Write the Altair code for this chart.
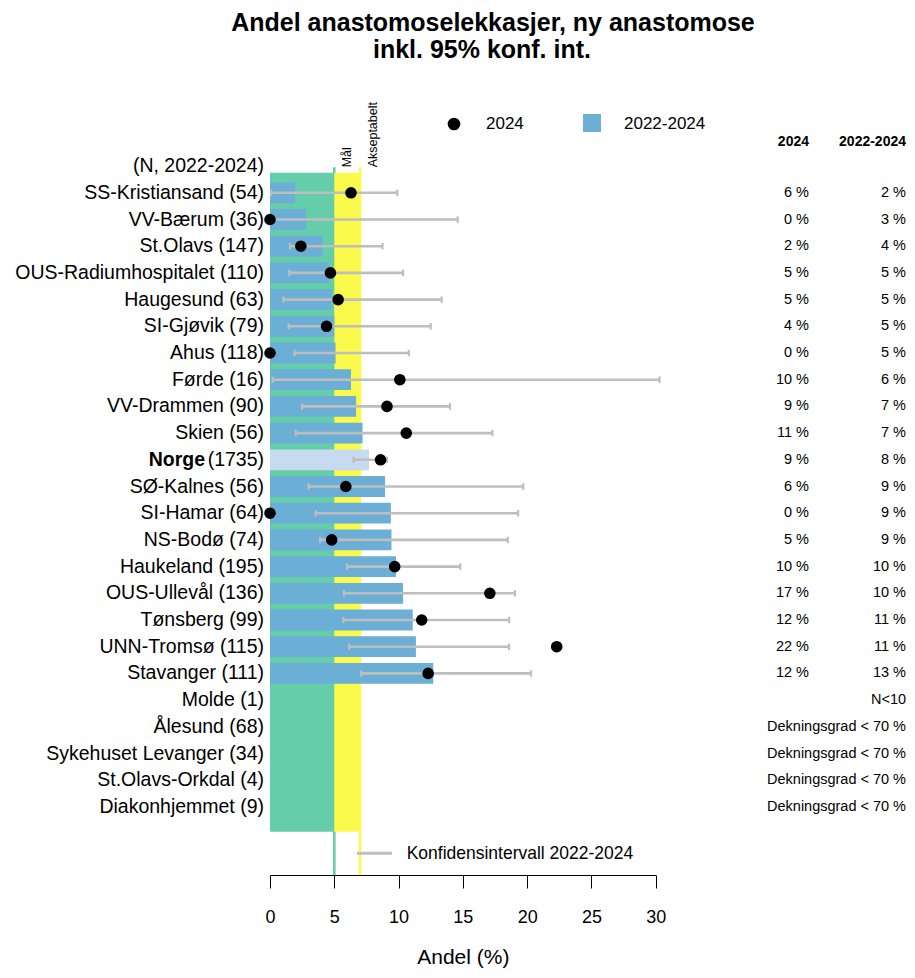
import altair as alt
import pandas as pd
import numpy as np

# ---------------- data ----------------
units = ["SS-Kristiansand", "VV-Bærum", "St.Olavs", "OUS-Radiumhospitalet", "Haugesund",
         "SI-Gjøvik", "Ahus", "Førde", "VV-Drammen", "Skien", "Norge", "SØ-Kalnes",
         "SI-Hamar", "NS-Bodø", "Haukeland", "OUS-Ullevål", "Tønsberg", "UNN-Tromsø",
         "Stavanger", "Molde", "Ålesund", "Sykehuset Levanger", "St.Olavs-Orkdal",
         "Diakonhjemmet"]
n_2022_2024 = [54, 36, 147, 110, 63, 79, 118, 16, 90, 56, 1735, 56, 64, 74, 195, 136, 99,
               115, 111, 1, 68, 34, 4, 9]
NA = np.nan
andel_2024 = [6.3, 0.0, 2.4, 4.7, 5.3, 4.4, 0.0, 10.1, 9.1, 10.6, 8.6, 5.9, 0.0, 4.8, 9.7,
              17.1, 11.8, 22.3, 12.3, NA, NA, NA, NA, NA]
andel_2022_2024 = [1.95, 2.8, 4.1, 4.6, 4.8, 5.0, 5.1, 6.3, 6.7, 7.2, 7.7, 8.95, 9.4, 9.45,
                   9.8, 10.35, 11.1, 11.35, 12.7, NA, NA, NA, NA, NA]
ci_lo = [0.1, 0.0, 1.55, 1.5, 1.05, 1.45, 1.9, 0.2, 2.5, 2.0, 6.5, 3.0, 3.55, 3.9, 6.0,
         5.75, 5.7, 6.15, 7.1, NA, NA, NA, NA, NA]
ci_hi = [9.9, 14.6, 8.75, 10.35, 13.35, 12.5, 10.8, 30.3, 14.0, 17.3, 9.1, 19.7, 19.3,
         18.5, 14.8, 19.05, 18.6, 18.6, 20.3, NA, NA, NA, NA, NA]
notes = [""] * 19 + ["N<10"] + ["Dekningsgrad < 70 %"] * 4
goal = 5          # Mål
acceptable = 7    # Akseptabelt
x_ticks = [0, 5, 10, 15, 20, 25, 30]

# ---------------- tables ----------------
pos = np.arange(1, len(units) + 1)


def pct(v):
    return "" if np.isnan(v) else f"{int(np.floor(v + 0.5))} %"


df = pd.DataFrame({
    "enhet": units,
    "n": n_2022_2024,
    "pos": pos,
    "a24": andel_2024,
    "a3": andel_2022_2024,
    "ci_lo": ci_lo,
    "ci_hi": ci_hi,
})
df["label"] = [("" if u == "Norge" else f"{u} ({n})") for u, n in zip(units, n_2022_2024)]
df["txt24"] = [pct(v) for v in andel_2024]
df["txt3"] = [pct(v) if not np.isnan(v) else nt for v, nt in zip(andel_2022_2024, notes)]
df["ylo"] = df["pos"] - 0.39
df["yhi"] = df["pos"] + 0.39
df["clo"] = df["pos"] - 0.12
df["chi"] = df["pos"] + 0.12

bands = pd.DataFrame({"x0": [0, goal], "x1": [goal, acceptable],
                      "col": ["#66CDAA", "#FAFA4C"], "y0": [0.25, 0.25], "y1": [24.93, 24.93]})
lines = pd.DataFrame({"x": [goal, acceptable], "col": ["#66CDAA", "#FAFA4C"],
                      "y0": [0.04, 0.04], "y1": [26.55, 26.55]})
one = pd.DataFrame({"k": [0]})

FONT = "Liberation Sans"
W, H = 385.7, 789
xs = alt.Scale(domain=[0, 30], nice=False, zero=False)
ys = alt.Scale(domain=[-3, 26.55], reverse=True, nice=False, zero=False)
xaxis = alt.Axis(values=x_ticks, grid=False, title="Andel (%)", domainColor="black",
                 tickColor="black", labelColor="black", titleColor="black", tickSize=13,
                 labelFontSize=18, titleFontSize=21, titleFontWeight="normal",
                 labelPadding=21, titlePadding=20, labelFont=FONT, titleFont=FONT,
                 labelFlush=False, domainWidth=1, tickWidth=1)


def X(f):
    return alt.X(f, type="quantitative", scale=xs, axis=xaxis)


def Y(f):
    return alt.Y(f, type="quantitative", scale=ys, axis=None)


valid = "isValid(datum.a3)"

thr_lines = alt.Chart(lines).mark_rule(strokeWidth=2.6).encode(
    x=X("x"), y=Y("y0"), y2="y1", color=alt.Color("col:N", scale=None))
band_rects = alt.Chart(bands).mark_rect().encode(
    x=X("x0"), x2="x1", y=Y("y0"), y2="y1", color=alt.Color("col:N", scale=None))

bars = alt.Chart(df).transform_filter(valid).mark_rect().encode(
    x=X("a3"), x2=alt.datum(0), y=Y("ylo"), y2="yhi",
    color=alt.condition(alt.datum.enhet == "Norge", alt.value("#C6DBEF"), alt.value("#6BAED6")))

ci = alt.Chart(df).transform_filter(valid).mark_rule(color="#BEBEBE", strokeWidth=2.6).encode(
    x=X("ci_lo"), x2="ci_hi", y=Y("pos"))

caps = alt.Chart(df).transform_filter(valid).transform_fold(
    ["ci_lo", "ci_hi"], as_=["end", "xv"]).mark_rule(color="#BEBEBE", strokeWidth=2.2).encode(
    x=X("xv"), y=Y("clo"), y2="chi")

dots = alt.Chart(df).transform_filter(valid).mark_circle(
    color="black", opacity=1, size=135).encode(x=X("a24"), y=Y("pos"))

labels = alt.Chart(df).transform_filter("datum.label != ''").mark_text(
    align="right", baseline="middle", fontSize=19.5, font=FONT, color="black").encode(
    x=alt.value(-6), y=Y("pos"), text="label:N")

norge_n = alt.Chart(df).transform_filter("datum.enhet == 'Norge'").mark_text(
    align="right", baseline="middle", fontSize=19.5, font=FONT, color="black").encode(
    x=alt.value(-6), y=Y("pos"), text=alt.value("(1735)"))
norge_name = alt.Chart(df).transform_filter("datum.enhet == 'Norge'").mark_text(
    align="right", baseline="middle", fontSize=19.5, font=FONT, fontWeight="bold",
    color="black").encode(x=alt.value(-65), y=Y("pos"), text="enhet:N")

header_n = alt.Chart(one).mark_text(
    align="right", baseline="middle", fontSize=19.5, font=FONT, color="black").encode(
    x=alt.value(-6), y=alt.value(80), text=alt.value("(N, 2022-2024)"))

COL24_X, COL3_X = 539, 636
col24 = alt.Chart(df).mark_text(align="right", baseline="middle", fontSize=14.5, font=FONT,
                                color="black").encode(
    x=alt.value(COL24_X), y=Y("pos"), text="txt24:N")
col3 = alt.Chart(df).mark_text(align="right", baseline="middle", fontSize=14.5, font=FONT,
                               color="black").encode(
    x=alt.value(COL3_X), y=Y("pos"), text="txt3:N")
head24 = alt.Chart(one).mark_text(align="right", baseline="middle", fontSize=14, font=FONT,
                                  fontWeight="bold", color="black").encode(
    x=alt.value(COL24_X), y=alt.value(56), text=alt.value("2024"))
head3 = alt.Chart(one).mark_text(align="right", baseline="middle", fontSize=14, font=FONT,
                                 fontWeight="bold", color="black").encode(
    x=alt.value(COL3_X), y=alt.value(56), text=alt.value("2022-2024"))

mal = alt.Chart(one).mark_text(angle=270, align="left", baseline="middle", fontSize=12.5,
                               font=FONT, color="black").encode(
    x=alt.value(77), y=alt.value(81.3), text=alt.value("Mål"))
aksept = alt.Chart(one).mark_text(angle=270, align="left", baseline="middle", fontSize=12.5,
                                  font=FONT, color="black").encode(
    x=alt.value(103), y=alt.value(81.3), text=alt.value("Akseptabelt"))

leg_dot = alt.Chart(one).mark_point(shape="circle", filled=True, color="black", opacity=1,
                                    size=160).encode(x=alt.value(184), y=alt.value(38))
leg_dot_t = alt.Chart(one).mark_text(align="left", baseline="middle", fontSize=17, font=FONT,
                                     color="black").encode(
    x=alt.value(216), y=alt.value(38), text=alt.value("2024"))
leg_sq = alt.Chart(one).mark_point(shape="square", filled=True, color="#6BAED6", opacity=1,
                                   size=324).encode(x=alt.value(322), y=alt.value(37))
leg_sq_t = alt.Chart(one).mark_text(align="left", baseline="middle", fontSize=17, font=FONT,
                                    color="black").encode(
    x=alt.value(354), y=alt.value(38), text=alt.value("2022-2024"))

leg_ci = alt.Chart(one).mark_rule(color="#BEBEBE", strokeWidth=3).encode(
    x=alt.value(87), x2=alt.value(122), y=alt.value(767.3))
leg_ci_t = alt.Chart(one).mark_text(align="left", baseline="middle", fontSize=17.5, font=FONT,
                                    color="black").encode(
    x=alt.value(136.7), y=alt.value(768), text=alt.value("Konfidensintervall 2022-2024"))

title1 = alt.Chart(one).mark_text(align="center", baseline="middle", fontSize=25, font=FONT,
                                  fontWeight="bold", color="black").encode(
    x=alt.value(223), y=alt.value(-63),
    text=alt.value("Andel anastomoselekkasjer, ny anastomose"))
title2 = alt.Chart(one).mark_text(align="center", baseline="middle", fontSize=25, font=FONT,
                                  fontWeight="bold", color="black").encode(
    x=alt.value(212), y=alt.value(-36), text=alt.value("inkl. 95% konf. int."))

chart = alt.layer(
    thr_lines, band_rects, bars, ci, caps, dots, labels, norge_n, norge_name, header_n,
    col24, col3, head24, head3, mal, aksept, leg_dot, leg_dot_t, leg_sq, leg_sq_t,
    leg_ci, leg_ci_t, title1, title2
).properties(
    width=W, height=H,
    padding={"left": 262, "top": 78, "right": 251, "bottom": 94},
    autosize=alt.AutoSizeParams(type="none"),
).configure(font=FONT).configure_view(stroke=None)

chart.save("out.html", embed_options={"renderer": "svg", "actions": False})
